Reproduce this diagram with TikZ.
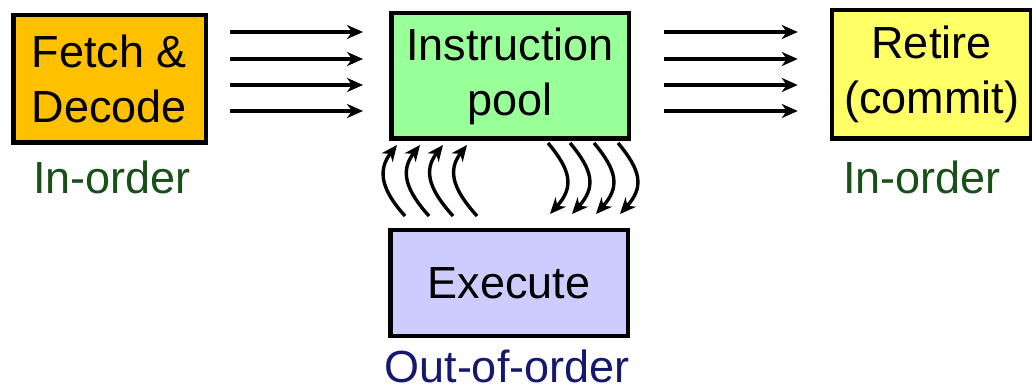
\documentclass[tikz,border=0pt]{standalone}
\usepackage{fontspec}
\setmainfont{Liberation Sans}
\usepackage{xcolor}
\usetikzlibrary{positioning,arrows.meta,calc}

\definecolor{fetchorange}{RGB}{255,192,0}
\definecolor{poolgreen}{RGB}{153,255,153}
\definecolor{execblue}{RGB}{204,204,255}
\definecolor{retireyellow}{RGB}{255,255,102}
\definecolor{ordergreen}{RGB}{25,80,25}
\definecolor{orderblue}{RGB}{20,25,110}

\tikzset{
  stage/.style={draw=black, line width=4.5pt, align=center, inner sep=0pt,
    font=\fontsize{45}{55}\selectfont},
  flow/.style={->, line width=3.4pt},
  orderlbl/.style={inner sep=0pt, font=\fontsize{45}{55}\selectfont}
}

\begin{document}
\begin{tikzpicture}[x=1pt, y=1pt, >={Stealth[length=16pt, width=14pt, inset=5pt]}]

\useasboundingbox (0,0) rectangle (1032,391);

% Pipeline stages
\node[stage, fill=fetchorange, minimum width=192.5pt, minimum height=127.5pt] (fetch) at (109.5,312) {Fetch \&\\Decode};
\node[stage, fill=poolgreen, minimum width=237.5pt, minimum height=125.5pt] (pool) at (510,315) {Instruction\\pool};
\node[stage, fill=execblue, minimum width=237.5pt, minimum height=105.5pt] (execute) at (509,108) {Execute};
\node[stage, fill=retireyellow, minimum width=199pt, minimum height=128.5pt] (retire) at (931.5,316.5) {Retire\\(commit)};

% Ordering labels
\node[orderlbl, text=ordergreen] (fetchorder) at ($(fetch.south)+(2.5,-32)$) {In-order};
\node[orderlbl, text=ordergreen] (retireorder) at ($(retire.south)+(-9.5,-36)$) {In-order};
\node[orderlbl, text=orderblue] (execorder) at ($(execute.south)+(-2,-28.5)$) {Out-of-order};

% Fetch -> pool, four wide
\draw[flow] ($(fetch.east |- pool.center)+(22,44)$) -- ($(pool.west)+(-26,44)$);
\draw[flow] ($(fetch.east |- pool.center)+(22,17)$) -- ($(pool.west)+(-26,17)$);
\draw[flow] ($(fetch.east |- pool.center)+(22,-9)$) -- ($(pool.west)+(-26,-9)$);
\draw[flow] ($(fetch.east |- pool.center)+(22,-35)$) -- ($(pool.west)+(-26,-35)$);

% Pool -> retire, four wide
\draw[flow] ($(pool.east)+(33,44)$) -- ($(retire.west |- pool.center)+(-32,44)$);
\draw[flow] ($(pool.east)+(33,17)$) -- ($(retire.west |- pool.center)+(-32,17)$);
\draw[flow] ($(pool.east)+(33,-9)$) -- ($(retire.west |- pool.center)+(-32,-9)$);
\draw[flow] ($(pool.east)+(33,-35)$) -- ($(retire.west |- pool.center)+(-32,-35)$);

% Results going back up to the pool
\draw[flow] ($(execute.north)+(-104,12)$) to[out=132, in=-128, looseness=1.2] ($(pool.south)+(-113,-4)$);
\draw[flow] ($(execute.north)+(-80,12)$) to[out=132, in=-128, looseness=1.2] ($(pool.south)+(-90,-4)$);
\draw[flow] ($(execute.north)+(-56,12)$) to[out=132, in=-128, looseness=1.2] ($(pool.south)+(-67,-4)$);
\draw[flow] ($(execute.north)+(-32,12)$) to[out=132, in=-128, looseness=1.2] ($(pool.south)+(-43,-4)$);

% Issue down to execute
\draw[flow] ($(pool.south)+(38,-2)$) to[out=-50, in=48, looseness=1.3] ($(execute.north)+(41,14)$);
\draw[flow] ($(pool.south)+(60,-2)$) to[out=-50, in=48, looseness=1.3] ($(execute.north)+(63,14)$);
\draw[flow] ($(pool.south)+(84,-2)$) to[out=-50, in=48, looseness=1.3] ($(execute.north)+(87,14)$);
\draw[flow] ($(pool.south)+(108,-2)$) to[out=-50, in=48, looseness=1.3] ($(execute.north)+(111,14)$);

\end{tikzpicture}
\end{document}
